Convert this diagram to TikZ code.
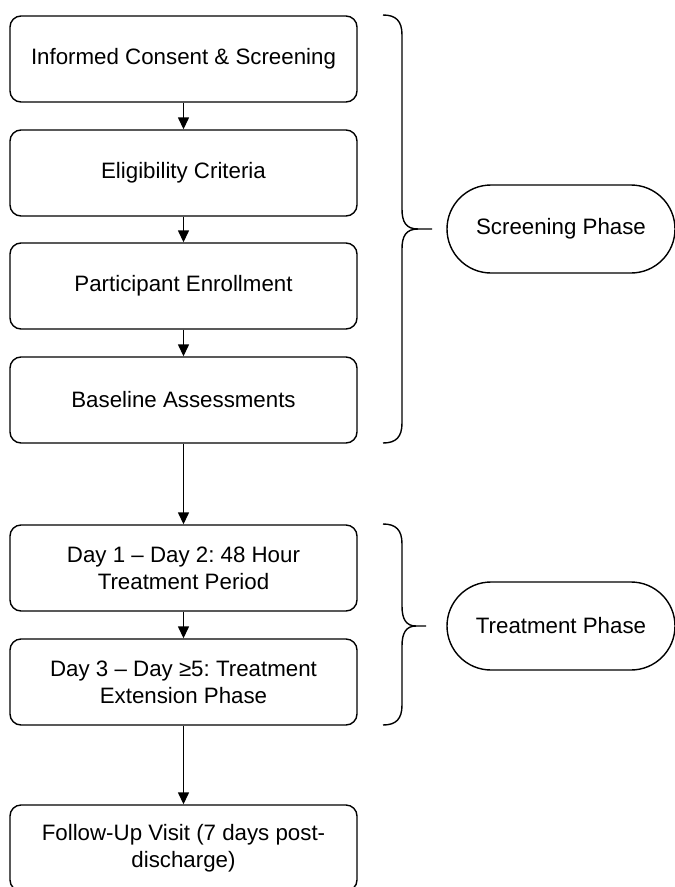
\documentclass[tikz,border=0pt]{standalone}
\usepackage{fontspec}
\setmainfont{Liberation Sans}
\usetikzlibrary{arrows.meta}
\frenchspacing
\begin{document}
\begin{tikzpicture}[x=1pt,y=-1pt,
  stepbox/.style={draw, line width=1.4pt, rounded corners=11pt, minimum width=347pt, minimum height=86pt, align=center, font=\fontsize{22.3}{27}\selectfont, inner sep=0pt},
  phasebox/.style={draw, line width=1.4pt, rounded corners=44pt, minimum width=228pt, minimum height=88pt, font=\fontsize{22.3}{27}\selectfont, inner sep=0pt},
  arr/.style={line width=1.4pt, -{Triangle[length=12pt,width=11pt]}},
  bracepath/.style={line width=1.4pt}]
\useasboundingbox (0,0) rectangle (675,887);
\node[stepbox] (a) at (183.5,59) {Informed Consent \& Screening};
\node[stepbox] (b) at (183.5,173) {Eligibility Criteria};
\node[stepbox] (c) at (183.5,286) {Participant Enrollment};
\node[stepbox] (d) at (183.5,400) {Baseline Assessments};
\node[stepbox] (e) at (183.5,568) {Day 1 – Day 2: 48 Hour\\Treatment Period};
\node[stepbox] (f) at (183.5,682) {Day 3 – Day ≥5: Treatment\\Extension Phase};
\node[stepbox] (g) at (183.5,848) {Follow-Up Visit (7 days post-\\discharge)};
\draw[arr] (a) -- (b);
\draw[arr] (b) -- (c);
\draw[arr] (c) -- (d);
\draw[arr] (d) -- (e);
\draw[arr] (e) -- (f);
\draw[arr] (f) -- (g);
\node[phasebox] (s) at (561,229) {Screening Phase};
\node[phasebox] (t) at (561,626) {Treatment Phase};
% screening brace
\coordinate (s1) at (383,15);
\coordinate (s2) at (432,229);
\coordinate (s3) at (383,443);
\draw[bracepath] (s1) .. controls (396,15) and (402,21) .. (402,35) -- (402,209)
  .. controls (402,222) and (406,229) .. (418,229) -- (s2);
\draw[bracepath] (s3) .. controls (396,443) and (402,437) .. (402,423) -- (402,249)
  .. controls (402,236) and (406,229) .. (418,229);
% treatment brace
\coordinate (t1) at (383,524);
\coordinate (t2) at (426,626);
\coordinate (t3) at (383,725);
\draw[bracepath] (t1) .. controls (396,524) and (402,530) .. (402,544) -- (402,606)
  .. controls (402,619) and (406,626) .. (416,626) -- (t2);
\draw[bracepath] (t3) .. controls (396,725) and (402,719) .. (402,705) -- (402,646)
  .. controls (402,633) and (406,626) .. (416,626);
\end{tikzpicture}
\end{document}
